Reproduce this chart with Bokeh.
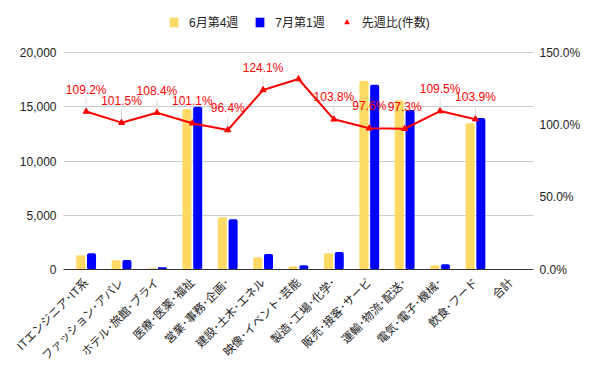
import math
from bokeh.plotting import figure
from bokeh.models import (Range1d, LinearAxis, Legend, LegendItem, FixedTicker,
                          PrintfTickFormatter, NumeralTickFormatter, ColumnDataSource)
from bokeh.core.properties import value
from bokeh.transform import dodge
from bokeh.embed import file_html
from bokeh.resources import INLINE

# ---------------- data ----------------
categories = ["ITエンジニア･IT系", "ファッション･アパレ", "ホテル･旅館･ブライ", "医療･医薬･福祉",
              "営業･事務･企画･", "建設･土木･エネル", "映像･イベント･芸能", "製造･工場･化学･",
              "販売･接客･サービ", "運輸･物流･配送･", "電気･電子･機械･", "飲食･フード", "合計"]
week_jun4 = [1320, 850, 120, 14800, 4810, 1130, 300, 1500, 17400, 15600, 400, 13490]
week_jul1 = [1500, 865, 210, 15000, 4630, 1440, 400, 1620, 17030, 14700, 490, 13960]
ratio_pct = [109.2, 101.5, 108.4, 101.1, 96.4, 124.1, 131.7, 103.8, 97.6, 97.3, 109.5, 103.9]
label_shown = [True, True, True, True, True, True, False, True, True, True, True, True]
series_names = ["6月第4週", "7月第1週", "先週比(件数)"]
left_ticks = [0, 5000, 10000, 15000, 20000]
right_ticks = [0, 50, 100, 150]

FONT = "Liberation Sans, Noto Sans CJK JP"
YELLOW = "#ffd966"
BLUE = "#0000ff"
RED = "#ff0000"

# layout: frame extends above the 20,000 gridline to host the legend
W, H = 600, 371
FRAME_L, FRAME_R = 63, 533
BOTTOM = 102
PLOT_H = 217.0          # px between 0 and 20,000
TOP_PAD = H - BOTTOM - PLOT_H   # px above the 20,000 line
LEFT_MAX = 20000
RIGHT_MAX = 150
scale = (PLOT_H + TOP_PAD) / PLOT_H

idx = list(range(len(week_jun4)))
bar_src = ColumnDataSource(dict(x=idx, a=week_jun4, b=week_jul1))
lab_x = [i for i, s in zip(idx, label_shown) if s]
lab_y = [r for r, s in zip(ratio_pct, label_shown) if s]
lab_t = [f"{r:.1f}%" for r in lab_y]
lab_src = ColumnDataSource(dict(x=lab_x, y=lab_y, y1=[v + 9 for v in lab_y], t=lab_t))

p = figure(width=W, height=H, x_range=Range1d(-0.64, len(categories) - 1 + 0.64),
           y_range=Range1d(0, LEFT_MAX * scale), output_backend="svg", toolbar_location=None,
           min_border_left=FRAME_L, min_border_right=W - FRAME_R, min_border_top=0,
           min_border_bottom=BOTTOM)
p.outline_line_color = None
p.background_fill_color = "white"
p.border_fill_color = "white"
p.extra_y_ranges = {"pct": Range1d(0, RIGHT_MAX * scale)}

# grid
p.xgrid.visible = False
p.ygrid.grid_line_color = "#cccccc"
p.ygrid.ticker = FixedTicker(ticks=left_ticks)

# x axis
xa = p.xaxis[0]
xa.ticker = FixedTicker(ticks=list(range(len(categories))))
xa.major_label_overrides = {i: c for i, c in enumerate(categories)}
xa.major_label_orientation = math.pi / 4
xa.major_tick_line_color = None
xa.major_tick_out = 0
xa.major_tick_in = 0
xa.minor_tick_line_color = None
xa.axis_line_color = "#333333"
xa.major_label_text_font = FONT
xa.major_label_text_font_size = "11.5px"
xa.major_label_text_color = "#222222"
xa.major_label_standoff = 11

# left axis
ya = p.yaxis[0]
ya.ticker = FixedTicker(ticks=left_ticks)
ya.formatter = NumeralTickFormatter(format="0,0")
ya.axis_line_color = None
ya.major_tick_line_color = None
ya.major_tick_out = 0
ya.major_tick_in = 0
ya.minor_tick_line_color = None
ya.major_label_text_font = FONT
ya.major_label_text_font_size = "12px"
ya.major_label_text_color = "#222222"
ya.major_label_standoff = 7

# right axis
ra = LinearAxis(y_range_name="pct", ticker=FixedTicker(ticks=right_ticks),
                formatter=PrintfTickFormatter(format="%.1f%%"))
ra.axis_line_color = None
ra.major_tick_line_color = None
ra.major_tick_out = 0
ra.major_tick_in = 0
ra.minor_tick_line_color = None
ra.major_label_text_font = FONT
ra.major_label_text_font_size = "12px"
ra.major_label_text_color = "#222222"
ra.major_label_standoff = 6
p.add_layout(ra, "right")

# bars
r_a = p.vbar(x=dodge("x", -0.152, range=p.x_range), top="a", width=0.255, source=bar_src,
             fill_color=YELLOW, line_color=None, border_radius=2)
r_b = p.vbar(x=dodge("x", 0.152, range=p.x_range), top="b", width=0.255, source=bar_src,
             fill_color=BLUE, line_color=None, border_radius=2)

# stems, line, markers, labels
p.segment(x0="x", y0="y", x1="x", y1="y1", source=lab_src, y_range_name="pct",
          line_color="#dddddd", line_width=1)
p.line(idx, ratio_pct, y_range_name="pct", line_color=RED, line_width=2)
p.scatter(idx, ratio_pct, y_range_name="pct", marker="triangle", size=6,
          fill_color=RED, line_color=RED)
p.text(x="x", y="y", text="t", source=lab_src, y_range_name="pct", y_offset=-22,
       text_align="center", text_baseline="middle", text_color=RED,
       text_font=value(FONT), text_font_size="12px")

# legend-only triangle renderer
r_tri = p.scatter([0], [0], y_range_name="pct", marker="triangle", size=11,
                  fill_color=RED, line_color=RED, visible=False)

legend = Legend(items=[LegendItem(label=series_names[0], renderers=[r_a]),
                       LegendItem(label=series_names[1], renderers=[r_b]),
                       LegendItem(label=series_names[2], renderers=[r_tri])],
                orientation="horizontal", location=(105, 239),
                glyph_width=11, glyph_height=12, label_height=12, label_standoff=10,
                spacing=16, padding=0, margin=0,
                label_text_font=FONT, label_text_font_size="12px", label_text_color="#222222",
                border_line_color=None, background_fill_alpha=0)
p.add_layout(legend, "center")

open("out.html", "w").write(file_html(p, INLINE))
